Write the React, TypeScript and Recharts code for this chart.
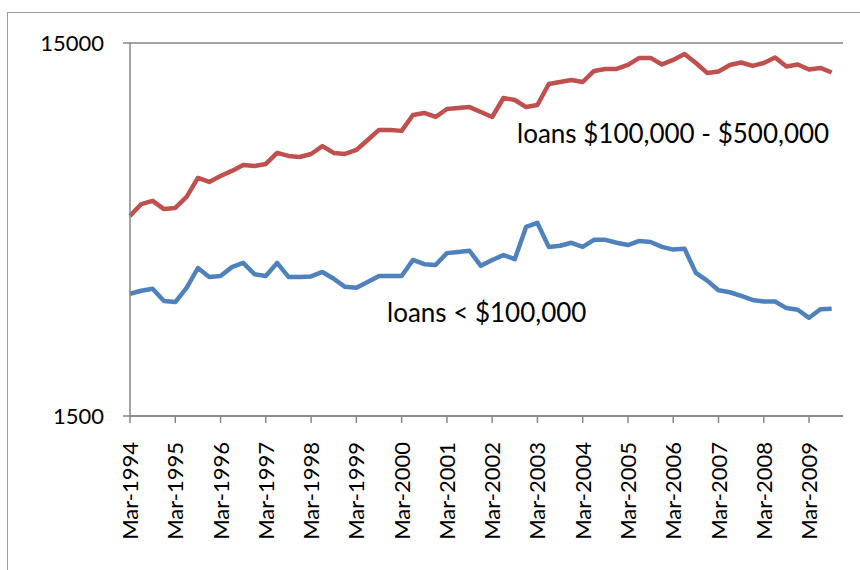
import { LineChart, Line, XAxis, YAxis, CartesianGrid } from 'recharts';

// quarterly categories, Mar-1994 .. Dec-2009 (last quarter has no data)
const years = [1994, 1995, 1996, 1997, 1998, 1999, 2000, 2001, 2002, 2003, 2004, 2005, 2006, 2007, 2008, 2009];
const quarters = ['Mar', 'Jun', 'Sep', 'Dec'];
const categories = years.flatMap(y => quarters.map(q => `${q}-${y}`));

const loansMid = [
    5160, 5550, 5660, 5380, 5420, 5800, 6520, 6360, 6600, 6810, 7060, 7020, 7110, 7610, 7470, 7420,
    7560, 7940, 7610, 7560, 7750, 8240, 8770, 8770, 8720, 9620, 9740, 9500, 9980, 10040, 10100, 9800,
    9500, 10680, 10550, 10100, 10230, 11650, 11790, 11940, 11790, 12620, 12780, 12780, 13100, 13680, 13680, 13140,
    13510, 14020, 13260, 12470, 12580, 13100, 13300, 13020, 13260, 13720, 12980, 13140, 12740, 12860, 12500, null,
];

const loansSmall = [
    3190, 3250, 3290, 3050, 3030, 3310, 3740, 3540, 3560, 3760, 3860, 3600, 3560, 3860, 3540, 3540,
    3550, 3650, 3500, 3330, 3310, 3430, 3560, 3560, 3560, 3930, 3830, 3810, 4100, 4130, 4160, 3790,
    3930, 4050, 3950, 4820, 4940, 4260, 4290, 4370, 4260, 4450, 4450, 4370, 4310, 4420, 4390, 4260,
    4190, 4210, 3630, 3460, 3260, 3220, 3150, 3070, 3040, 3040, 2920, 2890, 2750, 2900, 2910, null,
];

const yTicks = [1500, 15000];

const data = categories.map((q, i) => ({ q, mid: loansMid[i], small: loansSmall[i] }));

const FONT = 'Lato, "Open Sans", sans-serif';
const AXIS = '#868686';

function XTick({ x, y, payload }: any) {
    return (
        <text
            transform={`translate(${x + 8},${y + 17}) rotate(-90)`}
            textAnchor="end"
            fontFamily={FONT}
            fontSize={22}
            fill="#000"
        >
            {payload.value}
        </text>
    );
}

export default function App() {
    return (
        <div style={{ position: 'relative', width: 860, height: 570, overflow: 'hidden', background: '#fff' }}>
            <style>{'body{margin:0;overflow:hidden}'}</style>
            {/* chart area frame, runs past the right and bottom edges */}
            <div
                style={{
                    position: 'absolute', left: 7, top: 12, width: 900, height: 600,
                    border: '1.5px solid #9a9a9a',
                }}
            />
            <LineChart
                width={860}
                height={570}
                data={data}
                margin={{ top: 43, right: 17, bottom: 0, left: 0 }}
                style={{ position: 'absolute', left: 0, top: 0 }}
            >
                <CartesianGrid vertical={false} stroke={AXIS} strokeWidth={1.5} />
                <XAxis
                    dataKey="q"
                    interval={3}
                    height={154}
                    tickSize={7}
                    tick={<XTick />}
                    axisLine={{ stroke: AXIS, strokeWidth: 1.5 }}
                    tickLine={{ stroke: AXIS, strokeWidth: 1.5 }}
                />
                <YAxis
                    type="number"
                    scale="log"
                    domain={[1500, 15000]}
                    ticks={yTicks}
                    allowDataOverflow
                    width={130}
                    tickSize={7}
                    tickMargin={19}
                    tick={{ fill: '#000', fontSize: 22, fontFamily: FONT }}
                    axisLine={{ stroke: AXIS, strokeWidth: 1.5 }}
                    tickLine={{ stroke: AXIS, strokeWidth: 1.5 }}
                />
                <Line
                    dataKey="mid"
                    stroke="#C0504D"
                    strokeWidth={4.5}
                    dot={false}
                    strokeLinejoin="round"
                    isAnimationActive={false}
                />
                <Line
                    dataKey="small"
                    stroke="#4F81BD"
                    strokeWidth={4.5}
                    dot={false}
                    strokeLinejoin="round"
                    isAnimationActive={false}
                />
            </LineChart>
            <svg width={860} height={570} style={{ position: 'absolute', left: 0, top: 0, pointerEvents: 'none' }}>
                <text x={517} y={143} fontFamily={FONT} fontSize={26} fill="#000">loans $100,000 - $500,000</text>
                <text x={387} y={322} fontFamily={FONT} fontSize={26} fill="#000">loans &lt; $100,000</text>
            </svg>
        </div>
    );
}
